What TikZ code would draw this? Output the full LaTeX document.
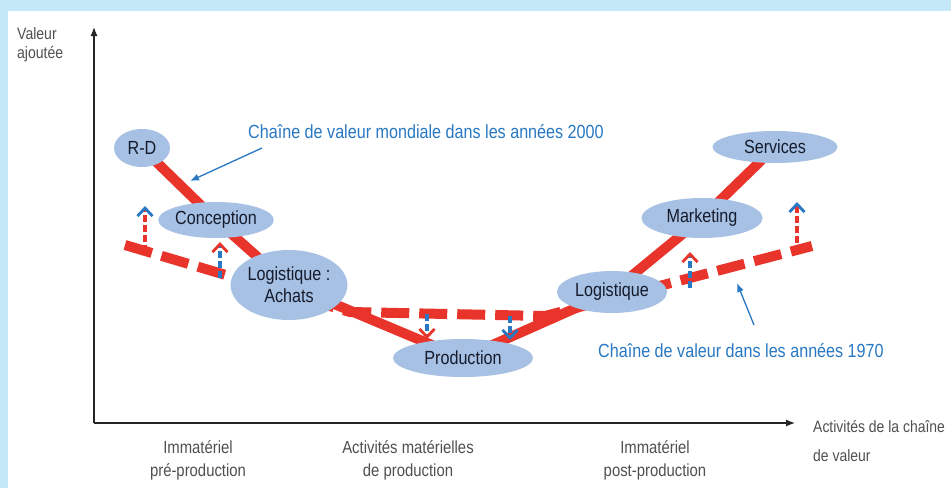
\documentclass[tikz,border=0pt]{standalone}
\usepackage{fontspec}
\setmainfont{Liberation Sans}[FakeStretch=0.85]
\usetikzlibrary{arrows.meta,shapes.geometric}
\definecolor{bgblue}{RGB}{197,232,248}
\definecolor{ellfill}{RGB}{166,193,227}
\definecolor{chainred}{RGB}{232,52,42}
\definecolor{annblue}{RGB}{40,120,195}
\definecolor{nodetext}{RGB}{22,27,45}
\definecolor{axgray}{RGB}{80,80,80}
\pgfdeclarelayer{bglayer}
\pgfdeclarelayer{linelayer}
\pgfsetlayers{bglayer,linelayer,main}
\tikzset{
  ell/.style={ellipse, fill=ellfill, inner sep=0pt, text=nodetext,
    font=\fontsize{19}{22}\selectfont, align=center},
  axisline/.style={line width=1.2pt, black!85, -{Latex[length=9pt,width=7pt]}},
  solidchain/.style={line width=10pt, chainred, line join=round},
  dashchain/.style={line width=10pt, chainred, dash pattern=on 28pt off 10pt},
  stemred/.style={line width=3.5pt, chainred, dash pattern=on 7pt off 3pt},
  stemblue/.style={line width=3.5pt, annblue, dash pattern=on 7pt off 3pt},
  tipblue/.style={-{Straight Barb[annblue,length=8pt,width=15pt,line width=2.8pt]}},
  tipred/.style={-{Straight Barb[chainred,length=8pt,width=15pt,line width=2.8pt]}},
  annarrow/.style={line width=1.3pt, annblue, -{Latex[length=9pt,width=7pt]}},
  anntext/.style={text=annblue, font=\fontsize{19}{22}\selectfont, inner sep=0pt, anchor=west},
  axtext/.style={text=axgray, font=\fontsize{17.5}{23}\selectfont, inner sep=0pt, align=center}
}
\begin{document}
\begin{tikzpicture}[x=1pt,y=-1pt]
\useasboundingbox (0,0) rectangle (951,488);
\begin{pgfonlayer}{bglayer}
\fill[bgblue] (0,0) rectangle (951,488);
\fill[white] (8,11) rectangle (951,488);
\end{pgfonlayer}

% axes
\coordinate (O) at (94,423);
\coordinate (Ytop) at (94,27);
\coordinate (Xend) at (795,423);
\draw[axisline] (O) -- (Ytop);
\draw[axisline] (O) -- (Xend);
\node[axtext, anchor=north west, align=left, font=\fontsize{16.5}{19}\selectfont] (vlab) at (17,27) {Valeur\\ajoutée};

% nodes
\node[ell, minimum width=56pt, minimum height=38pt] (rd) at (142,148) {R-D};
\node[ell, minimum width=86pt, minimum height=36pt] (con) at (216,220) {Conception};
\node[ell, minimum width=112pt, minimum height=70pt] (la) at (289,285) {Logistique :\\Achats};
\node[ell, minimum width=140pt, minimum height=38pt] (prod) at (463,358) {Production};
\node[ell, minimum width=110pt, minimum height=42pt] (logr) at (612,292) {Logistique};
\node[ell, minimum width=121pt, minimum height=40pt] (mkt) at (702,218) {Marketing};
\node[ell, minimum width=125pt, minimum height=32pt] (srv) at (775,147) {Services};

% chains
\coordinate (d1) at (125,245);
\coordinate (d2) at (350,312);
\coordinate (d3) at (545,316);
\coordinate (d4) at (812,246);
\begin{pgfonlayer}{linelayer}
\draw[solidchain] (rd.center) -- (con.center) -- (la.center) -- (prod.center) -- (logr.center) -- (mkt.center) -- (srv.center);
\draw[dashchain] (d1) -- (d2) -- (d3) -- (d4);
\end{pgfonlayer}

% small shift arrows
\coordinate (a1s) at (145,252); \coordinate (a1e) at (145,206);
\coordinate (a2s) at (220,278); \coordinate (a2e) at (220,242);
\coordinate (a3s) at (690,288); \coordinate (a3e) at (690,252);
\coordinate (a4s) at (797,243); \coordinate (a4e) at (797,202);
\coordinate (a5s) at (427,314); \coordinate (a5e) at (427,339);
\coordinate (a6s) at (510,316); \coordinate (a6e) at (510,340);
\draw[stemred, tipblue] (a1s) -- (a1e);
\draw[stemblue, tipred] (a2s) -- (a2e);
\draw[stemblue, tipred] (a3s) -- (a3e);
\draw[stemred, tipblue] (a4s) -- (a4e);
\draw[stemblue, tipred] (a5s) -- (a5e);
\draw[stemblue, tipblue] (a6s) -- (a6e);

% annotations
\node[anntext] (t2000) at (248,132) {Chaîne de valeur mondiale dans les années 2000};
\node[anntext] (t1970) at (598,351) {Chaîne de valeur dans les années 1970};
\coordinate (p2000a) at (262,148); \coordinate (p2000b) at (190,181);
\coordinate (p1970a) at (754,325); \coordinate (p1970b) at (737,283);
\draw[annarrow] (p2000a) -- (p2000b);
\draw[annarrow] (p1970a) -- (p1970b);

% bottom labels
\node[axtext] (b1) at (198,460) {Immatériel\\pré-production};
\node[axtext] (b2) at (408,460) {Activités matérielles\\de production};
\node[axtext] (b3) at (655,460) {Immatériel\\post-production};
\node[axtext, anchor=north west, align=left, font=\fontsize{16.4}{29}\selectfont] (b4) at (813,420) {Activités de la chaîne\\de valeur};
\end{tikzpicture}
\end{document}
